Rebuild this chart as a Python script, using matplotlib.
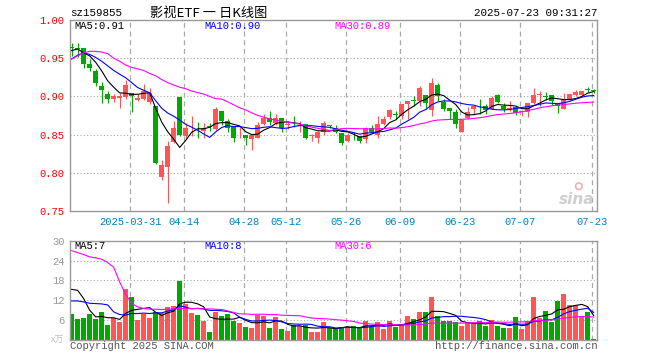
import numpy as np
import pandas as pd
import matplotlib
matplotlib.use("Agg")
import matplotlib.pyplot as plt

# ---- data (88 trading days, 2025-03-17 .. 2025-07-23) ----
tick_idx = [10, 19, 29, 36, 46, 55, 65, 75, 87]
tick_labels = ["2025-03-31", "04-14", "04-28", "05-12", "05-26",
               "06-09", "06-23", "07-07", "07-23"]

opens = [0.965, 0.963, 0.963, 0.942, 0.933, 0.914, 0.903, 0.896, 0.898, 0.899,
         0.904, 0.895, 0.897, 0.893, 0.888, 0.794, 0.808, 0.840, 0.899, 0.848,
         0.862, 0.859, 0.855, 0.861, 0.857, 0.881, 0.868, 0.861, 0.849, 0.850,
         0.844, 0.846, 0.864, 0.872, 0.865, 0.872, 0.863, 0.867, 0.861, 0.864,
         0.848, 0.845, 0.853, 0.863, 0.859, 0.852, 0.842, 0.850, 0.848, 0.844,
         0.858, 0.850, 0.864, 0.873, 0.877, 0.875, 0.890, 0.895, 0.894, 0.902,
         0.882, 0.915, 0.893, 0.885, 0.879, 0.854, 0.872, 0.883, 0.888, 0.887,
         0.884, 0.902, 0.888, 0.884, 0.886, 0.879, 0.879, 0.891, 0.902, 0.900,
         0.902, 0.892, 0.884, 0.897, 0.902, 0.902, 0.910, 0.908]
highs = [0.970, 0.970, 0.964, 0.949, 0.936, 0.919, 0.907, 0.903, 0.905, 0.921,
         0.905, 0.903, 0.916, 0.911, 0.888, 0.817, 0.842, 0.868, 0.899, 0.865,
         0.875, 0.867, 0.865, 0.865, 0.886, 0.881, 0.870, 0.861, 0.860, 0.850,
         0.850, 0.866, 0.877, 0.881, 0.877, 0.872, 0.868, 0.874, 0.868, 0.864,
         0.851, 0.855, 0.868, 0.863, 0.863, 0.852, 0.852, 0.853, 0.848, 0.860,
         0.862, 0.875, 0.874, 0.883, 0.881, 0.890, 0.894, 0.900, 0.913, 0.902,
         0.924, 0.918, 0.896, 0.885, 0.883, 0.870, 0.886, 0.887, 0.897, 0.890,
         0.900, 0.903, 0.892, 0.894, 0.887, 0.882, 0.892, 0.911, 0.907, 0.906,
         0.902, 0.892, 0.905, 0.903, 0.908, 0.907, 0.912, 0.910]
lows = [0.953, 0.951, 0.937, 0.933, 0.914, 0.892, 0.892, 0.893, 0.885, 0.896,
        0.880, 0.894, 0.895, 0.890, 0.812, 0.791, 0.761, 0.839, 0.848, 0.846,
        0.848, 0.845, 0.845, 0.855, 0.856, 0.862, 0.853, 0.840, 0.845, 0.836,
        0.830, 0.845, 0.863, 0.862, 0.863, 0.853, 0.857, 0.860, 0.853, 0.844,
        0.841, 0.839, 0.850, 0.858, 0.852, 0.836, 0.840, 0.843, 0.839, 0.839,
        0.853, 0.845, 0.862, 0.871, 0.870, 0.871, 0.871, 0.888, 0.888, 0.884,
        0.875, 0.894, 0.881, 0.870, 0.858, 0.853, 0.871, 0.876, 0.877, 0.877,
        0.883, 0.891, 0.880, 0.881, 0.876, 0.874, 0.873, 0.890, 0.887, 0.895,
        0.889, 0.878, 0.883, 0.895, 0.900, 0.901, 0.906, 0.905]
closes = [0.964, 0.962, 0.943, 0.937, 0.917, 0.908, 0.897, 0.901, 0.900, 0.915,
          0.900, 0.898, 0.907, 0.904, 0.813, 0.810, 0.835, 0.858, 0.850, 0.859,
          0.863, 0.858, 0.858, 0.860, 0.884, 0.868, 0.859, 0.846, 0.850, 0.846,
          0.849, 0.862, 0.872, 0.867, 0.872, 0.858, 0.864, 0.866, 0.862, 0.845,
          0.849, 0.853, 0.865, 0.861, 0.853, 0.839, 0.850, 0.849, 0.842, 0.859,
          0.854, 0.864, 0.870, 0.882, 0.876, 0.890, 0.894, 0.894, 0.911, 0.892,
          0.918, 0.900, 0.884, 0.881, 0.864, 0.869, 0.880, 0.887, 0.887, 0.882,
          0.898, 0.893, 0.883, 0.885, 0.878, 0.881, 0.892, 0.902, 0.903, 0.899,
          0.894, 0.887, 0.896, 0.903, 0.906, 0.907, 0.909, 0.907]
# volume in 万
volumes = [7.8, 6.3, 6.6, 7.9, 6.3, 8.4, 4.5, 6.5, 5.4, 15.4,
           13.0, 6.0, 7.9, 6.6, 8.5, 8.2, 9.9, 10.3, 17.8, 10.9,
           8.1, 7.5, 5.8, 2.4, 8.4, 7.2, 7.8, 5.8, 5.1, 3.9,
           3.6, 7.6, 7.2, 3.6, 6.9, 3.3, 2.7, 4.5, 4.2, 4.5,
           2.4, 2.4, 5.4, 3.7, 3.2, 3.9, 3.9, 4.2, 3.5, 5.7,
           4.2, 5.4, 3.4, 5.8, 4.0, 4.5, 7.2, 6.3, 8.4, 8.4,
           13.0, 7.2, 5.8, 5.8, 5.4, 4.2, 5.0, 5.0, 5.8, 4.2,
           6.0, 4.2, 3.6, 3.6, 6.9, 3.3, 5.7, 13.0, 6.6, 8.7,
           5.4, 11.8, 13.9, 10.6, 10.6, 6.9, 8.4, 0.3]

# moving-average values before the window is full (history not in the chart)
ma5_head = [0.960, 0.962, 0.957, 0.953]
ma10_head = [0.949, 0.954, 0.957, 0.955, 0.951, 0.946, 0.940, 0.934, 0.929]
ma30_head = [0.949, 0.953, 0.957, 0.959, 0.959, 0.958, 0.956, 0.950, 0.946, 0.941,
             0.938, 0.936, 0.934, 0.930, 0.927, 0.922, 0.918, 0.915, 0.912, 0.910,
             0.907, 0.905, 0.903, 0.900, 0.897, 0.8965, 0.893, 0.889, 0.885]
vma5_head = [15.3, 15.0, 12.5, 9.0]
vma10_head = [11.8, 11.8, 11.5, 11.1, 11.0, 10.9, 10.6, 8.5, 7.7]
vma30_head = [27.0, 26.4, 25.8, 25.1, 24.8, 24.4, 23.4, 22.0, 17.5, 13.8,
              11.0, 10.0, 9.5, 9.3, 9.3, 9.2, 9.3, 9.4, 9.5, 9.5,
              9.5, 9.5, 9.4, 9.4, 9.3, 9.2, 8.8, 8.3, 7.9]


def moving_avg(values, n, head):
    m = pd.Series(values).rolling(n).mean().to_numpy()
    m[:n - 1] = head
    return m


W, H = 660, 360
MONO = "Liberation Mono"
RED = "#ff5555"
GREEN = "#00a800"
GRID = "#aaaaaa"
FRAME = "#999999"
BLUE_TXT = "#0080c8"


def fx(px):
    return px / W


def fy(py):
    return 1 - py / H


o = np.array(opens)
h = np.array(highs)
l = np.array(lows)
c = np.array(closes)
v = np.array(volumes)
x = np.arange(len(c))
cols = np.where(c >= o, RED, GREEN)

fig = plt.figure(figsize=(W / 100, H / 100), dpi=100)
fig.patch.set_facecolor("white")

left, right = 70, 597.3
ax1 = fig.add_axes([fx(left), fy(211), fx(right - left), (211 - 20) / H])
ax2 = fig.add_axes([fx(left), fy(340), fx(right - left), (340 - 240.7) / H])

xlim = (-0.28, 87.6)
grid_x = [i - 0.27 for i in tick_idx]

for ax in (ax1, ax2):
    ax.set_xlim(*xlim)
    for s in ax.spines.values():
        s.set_color(FRAME)
        s.set_linewidth(1.0)
    for gx in grid_x:
        ax.axvline(gx, color=GRID, lw=0.9, ls=(0, (4, 3)), zorder=0)
    ax.tick_params(length=0)

# ---- price panel ----
ax1.set_ylim(0.75, 1.00)
for gy in [0.80, 0.85, 0.90, 0.95]:
    ax1.axhline(gy, color=GRID, lw=0.8, ls=(0, (1, 2)), zorder=0)

ax1.vlines(x, l, h, colors=cols, lw=0.8, zorder=2)
body = np.maximum(np.abs(c - o), 0.0008)
ax1.bar(x, body, bottom=np.minimum(o, c), width=0.75, color=cols, lw=0, zorder=3)

ax1.plot(x, moving_avg(c, 5, ma5_head), color="black", lw=0.8, zorder=4)
ax1.plot(x, moving_avg(c, 10, ma10_head), color="#0000ff", lw=0.8, zorder=4)
ax1.plot(x, moving_avg(c, 30, ma30_head), color="#ff00ff", lw=0.8, zorder=4)

ax1.set_yticks([0.75, 0.80, 0.85, 0.90, 0.95, 1.00])
ax1.set_yticklabels(["0.75", "0.80", "0.85", "0.90", "0.95", "1.00"],
                    family=MONO, fontsize=7.6, color="#ff0000")
ax1.tick_params(axis="y", pad=4)
ax1.set_xticks(grid_x)
ax1.set_xticklabels(tick_labels, family=MONO, fontsize=7.6, color=BLUE_TXT)
ax1.tick_params(axis="x", pad=4)

# sina watermark
ax1.text(0.995, 0.02, "sina", transform=ax1.transAxes, ha="right", va="bottom",
         fontsize=11, fontstyle="italic", fontweight="bold", color="#cfcfcf", zorder=1)
ax1.scatter([0.965], [0.13], s=22, transform=ax1.transAxes, facecolors="none",
            edgecolors="#f4b0b0", lw=1.2, zorder=1)

# ---- volume panel ----
ax2.set_ylim(0, 30)
for gy in [6, 12, 18, 24]:
    ax2.axhline(gy, color=GRID, lw=0.8, ls=(0, (1, 2)), zorder=0)
ax2.bar(x, v, width=0.8, color=cols, lw=0, zorder=2)
ax2.plot(x, moving_avg(v, 5, vma5_head), color="black", lw=0.8, zorder=4)
ax2.plot(x, moving_avg(v, 10, vma10_head), color="#0000ff", lw=0.8, zorder=4)
ax2.plot(x, moving_avg(v, 30, vma30_head), color="#ff00ff", lw=0.8, zorder=4)
ax2.set_yticks([6, 12, 18, 24, 30])
ax2.set_yticklabels(["6", "12", "18", "24", "30"], family=MONO, fontsize=7.6,
                    color=FRAME)
ax2.tick_params(axis="y", pad=4)
ax2.set_xticks([])

# ---- texts ----
fig.text(fx(70), fy(13), "sz159855", family=MONO, fontsize=7.8, va="center")
fig.text(fx(209), fy(13), "影视ETF 一 日K线图", family=["Noto Sans CJK SC", "DejaVu Sans"],
         fontsize=9.5, ha="center", va="center")
fig.text(fx(597), fy(13), "2025-07-23 09:31:27", family=MONO, fontsize=7.8,
         ha="right", va="center")

fig.text(fx(74), fy(26), "MA5:0.91", family=MONO, fontsize=7.6, va="center", color="black")
fig.text(fx(204), fy(26), "MA10:0.90", family=MONO, fontsize=7.6, va="center", color="#0000ff")
fig.text(fx(334.7), fy(26), "MA30:0.89", family=MONO, fontsize=7.6, va="center", color="#ff00ff")

fig.text(fx(74), fy(246), "MA5:7", family=MONO, fontsize=7.6, va="center", color="black")
fig.text(fx(204), fy(246), "MA10:8", family=MONO, fontsize=7.6, va="center", color="#0000ff")
fig.text(fx(334.7), fy(246), "MA30:6", family=MONO, fontsize=7.6, va="center", color="#ff00ff")

fig.text(fx(64), fy(340), "x万", family=["Noto Sans CJK SC", "DejaVu Sans"], fontsize=6.5,
         ha="right", va="center", color="#c0c0c0")
fig.text(fx(70), fy(346), "Copyright 2025 SINA.COM", family=MONO, fontsize=7.6,
         va="center", color="#555555")
fig.text(fx(597), fy(346), "http://finance.sina.com.cn", family=MONO, fontsize=7.6,
         ha="right", va="center", color="#555555")

fig.savefig("out.png", dpi=100)
